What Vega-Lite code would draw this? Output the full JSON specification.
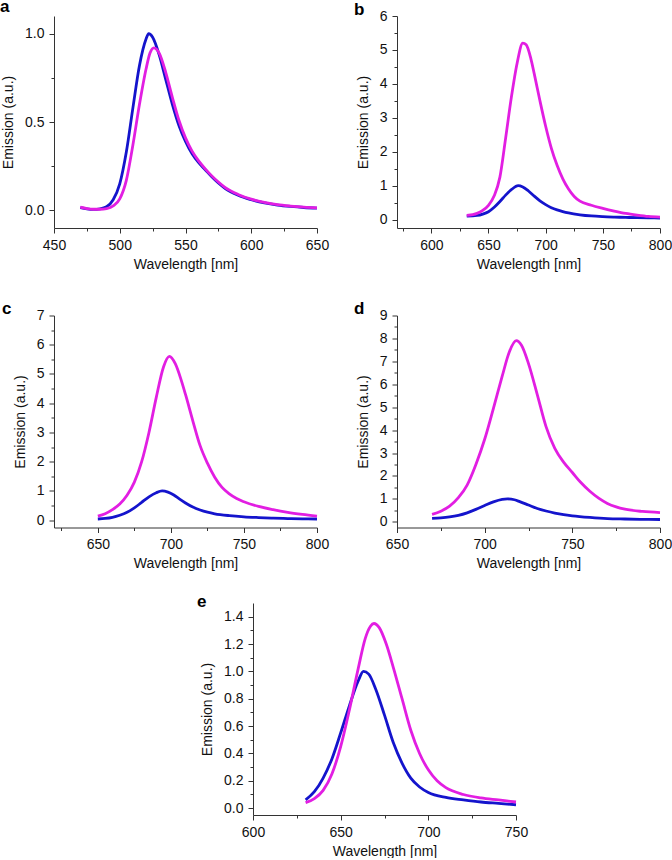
{
  "$schema": "https://vega.github.io/schema/vega-lite/v6.json",
  "padding": {"top": -2, "left": 0, "right": 0, "bottom": 0},
  "config": {
    "view": {"stroke": null},
    "font": "Liberation Sans",
    "axis": {"grid": false, "domainColor": "#333", "tickColor": "#333", "labelColor": "#111", "titleColor": "#111", "labelFontSize": 14, "titleFontSize": 14, "titleFontWeight": "normal", "tickSize": 5, "labelPadding": 5, "domainWidth": 1, "tickWidth": 1, "labelFlush": false, "labelOverlap": false, "labelBound": false},
    "axisX": {"titlePadding": 5},
    "axisY": {"titlePadding": 9},
    "title": {"fontSize": 17, "fontWeight": "bold", "color": "#000", "anchor": "start", "frame": "group", "baseline": "alphabetic"}
  },
  "datasets": {
    "a": [
      {"wavelength": 470, "emission": 0.015, "series": "s1"}, {"wavelength": 475, "emission": 0.008, "series": "s1"}, {"wavelength": 480, "emission": 0.005, "series": "s1"}, {"wavelength": 485, "emission": 0.008, "series": "s1"}, {"wavelength": 490, "emission": 0.02, "series": "s1"}, {"wavelength": 495, "emission": 0.06, "series": "s1"}, {"wavelength": 500, "emission": 0.15, "series": "s1"}, {"wavelength": 505, "emission": 0.33, "series": "s1"}, {"wavelength": 510, "emission": 0.58, "series": "s1"}, {"wavelength": 515, "emission": 0.82, "series": "s1"}, {"wavelength": 520, "emission": 0.97, "series": "s1"}, {"wavelength": 522, "emission": 1.0, "series": "s1"}, {"wavelength": 525, "emission": 0.98, "series": "s1"}, {"wavelength": 530, "emission": 0.88, "series": "s1"}, {"wavelength": 535, "emission": 0.74, "series": "s1"}, {"wavelength": 540, "emission": 0.6, "series": "s1"}, {"wavelength": 545, "emission": 0.48, "series": "s1"}, {"wavelength": 550, "emission": 0.39, "series": "s1"}, {"wavelength": 555, "emission": 0.32, "series": "s1"}, {"wavelength": 560, "emission": 0.27, "series": "s1"}, {"wavelength": 565, "emission": 0.23, "series": "s1"}, {"wavelength": 570, "emission": 0.19, "series": "s1"}, {"wavelength": 575, "emission": 0.155, "series": "s1"}, {"wavelength": 580, "emission": 0.125, "series": "s1"}, {"wavelength": 590, "emission": 0.085, "series": "s1"}, {"wavelength": 600, "emission": 0.06, "series": "s1"}, {"wavelength": 610, "emission": 0.042, "series": "s1"}, {"wavelength": 620, "emission": 0.03, "series": "s1"}, {"wavelength": 630, "emission": 0.022, "series": "s1"}, {"wavelength": 640, "emission": 0.016, "series": "s1"}, {"wavelength": 650, "emission": 0.012, "series": "s1"},
      {"wavelength": 470, "emission": 0.018, "series": "s2"}, {"wavelength": 475, "emission": 0.01, "series": "s2"}, {"wavelength": 480, "emission": 0.006, "series": "s2"}, {"wavelength": 485, "emission": 0.006, "series": "s2"}, {"wavelength": 490, "emission": 0.01, "series": "s2"}, {"wavelength": 495, "emission": 0.025, "series": "s2"}, {"wavelength": 500, "emission": 0.065, "series": "s2"}, {"wavelength": 505, "emission": 0.17, "series": "s2"}, {"wavelength": 510, "emission": 0.37, "series": "s2"}, {"wavelength": 515, "emission": 0.6, "series": "s2"}, {"wavelength": 520, "emission": 0.8, "series": "s2"}, {"wavelength": 523, "emission": 0.89, "series": "s2"}, {"wavelength": 526, "emission": 0.92, "series": "s2"}, {"wavelength": 530, "emission": 0.89, "series": "s2"}, {"wavelength": 535, "emission": 0.78, "series": "s2"}, {"wavelength": 540, "emission": 0.64, "series": "s2"}, {"wavelength": 545, "emission": 0.51, "series": "s2"}, {"wavelength": 550, "emission": 0.41, "series": "s2"}, {"wavelength": 555, "emission": 0.335, "series": "s2"}, {"wavelength": 560, "emission": 0.28, "series": "s2"}, {"wavelength": 565, "emission": 0.235, "series": "s2"}, {"wavelength": 570, "emission": 0.195, "series": "s2"}, {"wavelength": 575, "emission": 0.16, "series": "s2"}, {"wavelength": 580, "emission": 0.13, "series": "s2"}, {"wavelength": 590, "emission": 0.09, "series": "s2"}, {"wavelength": 600, "emission": 0.063, "series": "s2"}, {"wavelength": 610, "emission": 0.045, "series": "s2"}, {"wavelength": 620, "emission": 0.032, "series": "s2"}, {"wavelength": 630, "emission": 0.024, "series": "s2"}, {"wavelength": 640, "emission": 0.018, "series": "s2"}, {"wavelength": 650, "emission": 0.014, "series": "s2"}
    ],
    "b": [
      {"wavelength": 631, "emission": 0.1, "series": "s1"}, {"wavelength": 640, "emission": 0.12, "series": "s1"}, {"wavelength": 645, "emission": 0.16, "series": "s1"}, {"wavelength": 650, "emission": 0.23, "series": "s1"}, {"wavelength": 655, "emission": 0.36, "series": "s1"}, {"wavelength": 660, "emission": 0.53, "series": "s1"}, {"wavelength": 665, "emission": 0.72, "series": "s1"}, {"wavelength": 670, "emission": 0.88, "series": "s1"}, {"wavelength": 676, "emission": 1.0, "series": "s1"}, {"wavelength": 680, "emission": 0.96, "series": "s1"}, {"wavelength": 685, "emission": 0.84, "series": "s1"}, {"wavelength": 690, "emission": 0.69, "series": "s1"}, {"wavelength": 695, "emission": 0.55, "series": "s1"}, {"wavelength": 700, "emission": 0.44, "series": "s1"}, {"wavelength": 705, "emission": 0.35, "series": "s1"}, {"wavelength": 710, "emission": 0.285, "series": "s1"}, {"wavelength": 715, "emission": 0.235, "series": "s1"}, {"wavelength": 720, "emission": 0.195, "series": "s1"}, {"wavelength": 730, "emission": 0.14, "series": "s1"}, {"wavelength": 740, "emission": 0.105, "series": "s1"}, {"wavelength": 750, "emission": 0.085, "series": "s1"}, {"wavelength": 760, "emission": 0.072, "series": "s1"}, {"wavelength": 770, "emission": 0.062, "series": "s1"}, {"wavelength": 780, "emission": 0.055, "series": "s1"}, {"wavelength": 790, "emission": 0.05, "series": "s1"}, {"wavelength": 800, "emission": 0.045, "series": "s1"},
      {"wavelength": 631, "emission": 0.12, "series": "s2"}, {"wavelength": 640, "emission": 0.18, "series": "s2"}, {"wavelength": 645, "emission": 0.27, "series": "s2"}, {"wavelength": 650, "emission": 0.42, "series": "s2"}, {"wavelength": 655, "emission": 0.7, "series": "s2"}, {"wavelength": 660, "emission": 1.25, "series": "s2"}, {"wavelength": 665, "emission": 2.4, "series": "s2"}, {"wavelength": 670, "emission": 3.6, "series": "s2"}, {"wavelength": 675, "emission": 4.6, "series": "s2"}, {"wavelength": 680, "emission": 5.2, "series": "s2"}, {"wavelength": 683, "emission": 5.15, "series": "s2"}, {"wavelength": 687, "emission": 4.75, "series": "s2"}, {"wavelength": 690, "emission": 4.3, "series": "s2"}, {"wavelength": 695, "emission": 3.5, "series": "s2"}, {"wavelength": 700, "emission": 2.75, "series": "s2"}, {"wavelength": 705, "emission": 2.1, "series": "s2"}, {"wavelength": 710, "emission": 1.6, "series": "s2"}, {"wavelength": 715, "emission": 1.2, "series": "s2"}, {"wavelength": 720, "emission": 0.9, "series": "s2"}, {"wavelength": 725, "emission": 0.68, "series": "s2"}, {"wavelength": 730, "emission": 0.54, "series": "s2"}, {"wavelength": 740, "emission": 0.42, "series": "s2"}, {"wavelength": 750, "emission": 0.33, "series": "s2"}, {"wavelength": 760, "emission": 0.25, "series": "s2"}, {"wavelength": 770, "emission": 0.18, "series": "s2"}, {"wavelength": 780, "emission": 0.13, "series": "s2"}, {"wavelength": 790, "emission": 0.09, "series": "s2"}, {"wavelength": 800, "emission": 0.07, "series": "s2"}
    ],
    "c": [
      {"wavelength": 650, "emission": 0.04, "series": "s1"}, {"wavelength": 655, "emission": 0.06, "series": "s1"}, {"wavelength": 660, "emission": 0.1, "series": "s1"}, {"wavelength": 665, "emission": 0.17, "series": "s1"}, {"wavelength": 670, "emission": 0.27, "series": "s1"}, {"wavelength": 675, "emission": 0.42, "series": "s1"}, {"wavelength": 680, "emission": 0.61, "series": "s1"}, {"wavelength": 685, "emission": 0.8, "series": "s1"}, {"wavelength": 690, "emission": 0.94, "series": "s1"}, {"wavelength": 694, "emission": 1.0, "series": "s1"}, {"wavelength": 698, "emission": 0.96, "series": "s1"}, {"wavelength": 702, "emission": 0.86, "series": "s1"}, {"wavelength": 706, "emission": 0.72, "series": "s1"}, {"wavelength": 710, "emission": 0.59, "series": "s1"}, {"wavelength": 715, "emission": 0.45, "series": "s1"}, {"wavelength": 720, "emission": 0.35, "series": "s1"}, {"wavelength": 725, "emission": 0.275, "series": "s1"}, {"wavelength": 730, "emission": 0.22, "series": "s1"}, {"wavelength": 740, "emission": 0.155, "series": "s1"}, {"wavelength": 750, "emission": 0.115, "series": "s1"}, {"wavelength": 760, "emission": 0.09, "series": "s1"}, {"wavelength": 770, "emission": 0.07, "series": "s1"}, {"wavelength": 780, "emission": 0.055, "series": "s1"}, {"wavelength": 790, "emission": 0.045, "series": "s1"}, {"wavelength": 800, "emission": 0.04, "series": "s1"},
      {"wavelength": 650, "emission": 0.14, "series": "s2"}, {"wavelength": 655, "emission": 0.22, "series": "s2"}, {"wavelength": 660, "emission": 0.36, "series": "s2"}, {"wavelength": 665, "emission": 0.55, "series": "s2"}, {"wavelength": 670, "emission": 0.85, "series": "s2"}, {"wavelength": 675, "emission": 1.3, "series": "s2"}, {"wavelength": 680, "emission": 2.0, "series": "s2"}, {"wavelength": 685, "emission": 3.0, "series": "s2"}, {"wavelength": 690, "emission": 4.2, "series": "s2"}, {"wavelength": 695, "emission": 5.25, "series": "s2"}, {"wavelength": 699, "emission": 5.6, "series": "s2"}, {"wavelength": 703, "emission": 5.35, "series": "s2"}, {"wavelength": 707, "emission": 4.8, "series": "s2"}, {"wavelength": 710, "emission": 4.3, "series": "s2"}, {"wavelength": 715, "emission": 3.4, "series": "s2"}, {"wavelength": 720, "emission": 2.55, "series": "s2"}, {"wavelength": 725, "emission": 1.95, "series": "s2"}, {"wavelength": 730, "emission": 1.47, "series": "s2"}, {"wavelength": 735, "emission": 1.12, "series": "s2"}, {"wavelength": 740, "emission": 0.9, "series": "s2"}, {"wavelength": 745, "emission": 0.74, "series": "s2"}, {"wavelength": 750, "emission": 0.63, "series": "s2"}, {"wavelength": 760, "emission": 0.47, "series": "s2"}, {"wavelength": 770, "emission": 0.36, "series": "s2"}, {"wavelength": 780, "emission": 0.27, "series": "s2"}, {"wavelength": 790, "emission": 0.2, "series": "s2"}, {"wavelength": 800, "emission": 0.14, "series": "s2"}
    ],
    "d": [
      {"wavelength": 670, "emission": 0.15, "series": "s1"}, {"wavelength": 675, "emission": 0.17, "series": "s1"}, {"wavelength": 680, "emission": 0.21, "series": "s1"}, {"wavelength": 685, "emission": 0.28, "series": "s1"}, {"wavelength": 690, "emission": 0.39, "series": "s1"}, {"wavelength": 695, "emission": 0.54, "series": "s1"}, {"wavelength": 700, "emission": 0.71, "series": "s1"}, {"wavelength": 705, "emission": 0.87, "series": "s1"}, {"wavelength": 710, "emission": 0.98, "series": "s1"}, {"wavelength": 713, "emission": 1.0, "series": "s1"}, {"wavelength": 717, "emission": 0.96, "series": "s1"}, {"wavelength": 720, "emission": 0.88, "series": "s1"}, {"wavelength": 725, "emission": 0.73, "series": "s1"}, {"wavelength": 730, "emission": 0.58, "series": "s1"}, {"wavelength": 735, "emission": 0.47, "series": "s1"}, {"wavelength": 740, "emission": 0.38, "series": "s1"}, {"wavelength": 745, "emission": 0.31, "series": "s1"}, {"wavelength": 750, "emission": 0.26, "series": "s1"}, {"wavelength": 760, "emission": 0.19, "series": "s1"}, {"wavelength": 770, "emission": 0.14, "series": "s1"}, {"wavelength": 780, "emission": 0.12, "series": "s1"}, {"wavelength": 790, "emission": 0.105, "series": "s1"}, {"wavelength": 800, "emission": 0.1, "series": "s1"},
      {"wavelength": 670, "emission": 0.32, "series": "s2"}, {"wavelength": 675, "emission": 0.46, "series": "s2"}, {"wavelength": 680, "emission": 0.68, "series": "s2"}, {"wavelength": 685, "emission": 1.05, "series": "s2"}, {"wavelength": 690, "emission": 1.6, "series": "s2"}, {"wavelength": 695, "emission": 2.5, "series": "s2"}, {"wavelength": 700, "emission": 3.6, "series": "s2"}, {"wavelength": 705, "emission": 4.95, "series": "s2"}, {"wavelength": 710, "emission": 6.35, "series": "s2"}, {"wavelength": 714, "emission": 7.4, "series": "s2"}, {"wavelength": 718, "emission": 7.9, "series": "s2"}, {"wavelength": 721, "emission": 7.7, "series": "s2"}, {"wavelength": 725, "emission": 6.9, "series": "s2"}, {"wavelength": 730, "emission": 5.55, "series": "s2"}, {"wavelength": 735, "emission": 4.15, "series": "s2"}, {"wavelength": 740, "emission": 3.2, "series": "s2"}, {"wavelength": 745, "emission": 2.6, "series": "s2"}, {"wavelength": 750, "emission": 2.15, "series": "s2"}, {"wavelength": 755, "emission": 1.7, "series": "s2"}, {"wavelength": 760, "emission": 1.33, "series": "s2"}, {"wavelength": 765, "emission": 1.03, "series": "s2"}, {"wavelength": 770, "emission": 0.8, "series": "s2"}, {"wavelength": 775, "emission": 0.65, "series": "s2"}, {"wavelength": 780, "emission": 0.55, "series": "s2"}, {"wavelength": 790, "emission": 0.45, "series": "s2"}, {"wavelength": 800, "emission": 0.4, "series": "s2"}
    ],
    "e": [
      {"wavelength": 630, "emission": 0.06, "series": "s1"}, {"wavelength": 635, "emission": 0.12, "series": "s1"}, {"wavelength": 640, "emission": 0.22, "series": "s1"}, {"wavelength": 645, "emission": 0.36, "series": "s1"}, {"wavelength": 650, "emission": 0.55, "series": "s1"}, {"wavelength": 655, "emission": 0.75, "series": "s1"}, {"wavelength": 660, "emission": 0.93, "series": "s1"}, {"wavelength": 663, "emission": 1.0, "series": "s1"}, {"wavelength": 666, "emission": 0.98, "series": "s1"}, {"wavelength": 670, "emission": 0.87, "series": "s1"}, {"wavelength": 675, "emission": 0.68, "series": "s1"}, {"wavelength": 680, "emission": 0.48, "series": "s1"}, {"wavelength": 685, "emission": 0.33, "series": "s1"}, {"wavelength": 690, "emission": 0.22, "series": "s1"}, {"wavelength": 695, "emission": 0.155, "series": "s1"}, {"wavelength": 700, "emission": 0.115, "series": "s1"}, {"wavelength": 710, "emission": 0.078, "series": "s1"}, {"wavelength": 720, "emission": 0.06, "series": "s1"}, {"wavelength": 730, "emission": 0.045, "series": "s1"}, {"wavelength": 740, "emission": 0.035, "series": "s1"}, {"wavelength": 750, "emission": 0.025, "series": "s1"},
      {"wavelength": 630, "emission": 0.04, "series": "s2"}, {"wavelength": 635, "emission": 0.07, "series": "s2"}, {"wavelength": 640, "emission": 0.13, "series": "s2"}, {"wavelength": 645, "emission": 0.25, "series": "s2"}, {"wavelength": 650, "emission": 0.45, "series": "s2"}, {"wavelength": 655, "emission": 0.72, "series": "s2"}, {"wavelength": 660, "emission": 1.02, "series": "s2"}, {"wavelength": 664, "emission": 1.24, "series": "s2"}, {"wavelength": 667, "emission": 1.33, "series": "s2"}, {"wavelength": 669, "emission": 1.35, "series": "s2"}, {"wavelength": 672, "emission": 1.32, "series": "s2"}, {"wavelength": 676, "emission": 1.2, "series": "s2"}, {"wavelength": 680, "emission": 1.03, "series": "s2"}, {"wavelength": 685, "emission": 0.8, "series": "s2"}, {"wavelength": 690, "emission": 0.57, "series": "s2"}, {"wavelength": 695, "emission": 0.4, "series": "s2"}, {"wavelength": 700, "emission": 0.28, "series": "s2"}, {"wavelength": 705, "emission": 0.2, "series": "s2"}, {"wavelength": 710, "emission": 0.15, "series": "s2"}, {"wavelength": 720, "emission": 0.1, "series": "s2"}, {"wavelength": 730, "emission": 0.075, "series": "s2"}, {"wavelength": 740, "emission": 0.06, "series": "s2"}, {"wavelength": 750, "emission": 0.045, "series": "s2"}
    ]
  },
  "vconcat": [
    {
      "vconcat": [
        {
          "hconcat": [
            {
              "width": 263, "height": 212,
              "data": {"name": "a"},
              "title": {"text": "a", "dx": -54, "offset": 0},
              "layer": [
                {"transform": [{"filter": "datum.series === 's1'"}], "mark": {"type": "line", "interpolate": "monotone", "strokeWidth": 2.8, "color": "#1414cc"},
                 "encoding": {
                   "x": {"field": "wavelength", "type": "quantitative", "scale": {"domain": [450, 650], "nice": false, "zero": false}, "axis": {"values": [450, 500, 550, 600, 650], "title": "Wavelength [nm]"}},
                   "y": {"field": "emission", "type": "quantitative", "scale": {"domain": [-0.1, 1.1], "nice": false, "zero": false}, "axis": {"values": [0, 0.5, 1], "format": ".1f", "title": "Emission (a.u.)"}}}},
                {"transform": [{"filter": "datum.series === 's2'"}], "mark": {"type": "line", "interpolate": "monotone", "strokeWidth": 2.8, "color": "#e21ee2"},
                 "encoding": {
                   "x": {"field": "wavelength", "type": "quantitative", "axis": {"orient": "bottom", "values": [475, 525, 575, 625], "labels": false, "domain": false, "title": null, "tickSize": 3}},
                   "y": {"field": "emission", "type": "quantitative", "axis": {"orient": "left", "values": [0.25, 0.75], "labels": false, "domain": false, "title": null, "tickSize": 3}}}}
              ],
              "resolve": {"axis": {"x": "independent", "y": "independent"}}
            },
            {
              "width": 263, "height": 212,
              "data": {"name": "b"},
              "title": {"text": "b", "dx": -43, "offset": -9.5},
              "layer": [
                {"transform": [{"filter": "datum.series === 's1'"}], "mark": {"type": "line", "interpolate": "monotone", "strokeWidth": 2.8, "color": "#1414cc"},
                 "encoding": {
                   "x": {"field": "wavelength", "type": "quantitative", "scale": {"domain": [570, 800], "nice": false, "zero": false}, "axis": {"values": [600, 650, 700, 750, 800], "title": "Wavelength [nm]"}},
                   "y": {"field": "emission", "type": "quantitative", "scale": {"domain": [-0.25, 6], "nice": false, "zero": false}, "axis": {"values": [0, 1, 2, 3, 4, 5, 6], "title": "Emission (a.u.)"}}}},
                {"transform": [{"filter": "datum.series === 's2'"}], "mark": {"type": "line", "interpolate": "monotone", "strokeWidth": 2.8, "color": "#e21ee2"},
                 "encoding": {
                   "x": {"field": "wavelength", "type": "quantitative", "axis": {"orient": "bottom", "values": [575, 625, 675, 725, 775], "labels": false, "domain": false, "title": null, "tickSize": 3}},
                   "y": {"field": "emission", "type": "quantitative", "axis": {"orient": "left", "values": [0.5, 1.5, 2.5, 3.5, 4.5, 5.5], "labels": false, "domain": false, "title": null, "tickSize": 3}}}}
              ],
              "resolve": {"axis": {"x": "independent", "y": "independent"}}
            }
          ],
          "spacing": 25
        },
        {
          "hconcat": [
            {
              "width": 263, "height": 212,
              "data": {"name": "c"},
              "title": {"text": "c", "dx": -52, "offset": -9.5},
              "layer": [
                {"transform": [{"filter": "datum.series === 's1'"}], "mark": {"type": "line", "interpolate": "monotone", "strokeWidth": 2.8, "color": "#1414cc"},
                 "encoding": {
                   "x": {"field": "wavelength", "type": "quantitative", "scale": {"domain": [620, 800], "nice": false, "zero": false}, "axis": {"values": [650, 700, 750, 800], "title": "Wavelength [nm]"}},
                   "y": {"field": "emission", "type": "quantitative", "scale": {"domain": [-0.25, 7], "nice": false, "zero": false}, "axis": {"values": [0, 1, 2, 3, 4, 5, 6, 7], "title": "Emission (a.u.)"}}}},
                {"transform": [{"filter": "datum.series === 's2'"}], "mark": {"type": "line", "interpolate": "monotone", "strokeWidth": 2.8, "color": "#e21ee2"},
                 "encoding": {
                   "x": {"field": "wavelength", "type": "quantitative", "axis": {"orient": "bottom", "values": [625, 675, 725, 775], "labels": false, "domain": false, "title": null, "tickSize": 3}},
                   "y": {"field": "emission", "type": "quantitative", "axis": {"orient": "left", "values": [0.5, 1.5, 2.5, 3.5, 4.5, 5.5, 6.5], "labels": false, "domain": false, "title": null, "tickSize": 3}}}}
              ],
              "resolve": {"axis": {"x": "independent", "y": "independent"}}
            },
            {
              "width": 263, "height": 212,
              "data": {"name": "d"},
              "title": {"text": "d", "dx": -43, "offset": -9.5},
              "layer": [
                {"transform": [{"filter": "datum.series === 's1'"}], "mark": {"type": "line", "interpolate": "monotone", "strokeWidth": 2.8, "color": "#1414cc"},
                 "encoding": {
                   "x": {"field": "wavelength", "type": "quantitative", "scale": {"domain": [650, 800], "nice": false, "zero": false}, "axis": {"values": [650, 700, 750, 800], "title": "Wavelength [nm]"}},
                   "y": {"field": "emission", "type": "quantitative", "scale": {"domain": [-0.25, 9], "nice": false, "zero": false}, "axis": {"values": [0, 1, 2, 3, 4, 5, 6, 7, 8, 9], "title": "Emission (a.u.)"}}}},
                {"transform": [{"filter": "datum.series === 's2'"}], "mark": {"type": "line", "interpolate": "monotone", "strokeWidth": 2.8, "color": "#e21ee2"},
                 "encoding": {
                   "x": {"field": "wavelength", "type": "quantitative", "axis": {"orient": "bottom", "values": [675, 725, 775], "labels": false, "domain": false, "title": null, "tickSize": 3}},
                   "y": {"field": "emission", "type": "quantitative", "axis": {"orient": "left", "values": [0.5, 1.5, 2.5, 3.5, 4.5, 5.5, 6.5, 7.5, 8.5], "labels": false, "domain": false, "title": null, "tickSize": 3}}}}
              ],
              "resolve": {"axis": {"x": "independent", "y": "independent"}}
            }
          ],
          "spacing": 25
        }
      ],
      "spacing": 28.5
    },
    {
      "hconcat": [
        {"width": 143, "height": 10, "data": {"values": []}, "mark": "point"},
        {
          "width": 263, "height": 212,
          "data": {"name": "e"},
          "title": {"text": "e", "dx": -56, "offset": -8},
          "layer": [
            {"transform": [{"filter": "datum.series === 's1'"}], "mark": {"type": "line", "interpolate": "monotone", "strokeWidth": 2.8, "color": "#1414cc"},
             "encoding": {
               "x": {"field": "wavelength", "type": "quantitative", "scale": {"domain": [600, 750], "nice": false, "zero": false}, "axis": {"values": [600, 650, 700, 750], "title": "Wavelength [nm]"}},
               "y": {"field": "emission", "type": "quantitative", "scale": {"domain": [-0.05, 1.5], "nice": false, "zero": false}, "axis": {"values": [0, 0.2, 0.4, 0.6, 0.8, 1.0, 1.2, 1.4], "format": ".1f", "title": "Emission (a.u.)"}}}},
            {"transform": [{"filter": "datum.series === 's2'"}], "mark": {"type": "line", "interpolate": "monotone", "strokeWidth": 2.8, "color": "#e21ee2"},
             "encoding": {
               "x": {"field": "wavelength", "type": "quantitative", "axis": {"orient": "bottom", "values": [625, 675, 725], "labels": false, "domain": false, "title": null, "tickSize": 3}},
               "y": {"field": "emission", "type": "quantitative", "axis": {"orient": "left", "values": [0.1, 0.3, 0.5, 0.7, 0.9, 1.1, 1.3], "labels": false, "domain": false, "title": null, "tickSize": 3}}}}
          ],
          "resolve": {"axis": {"x": "independent", "y": "independent"}}
        }
      ],
      "spacing": 0
    }
  ],
  "spacing": 22
}
